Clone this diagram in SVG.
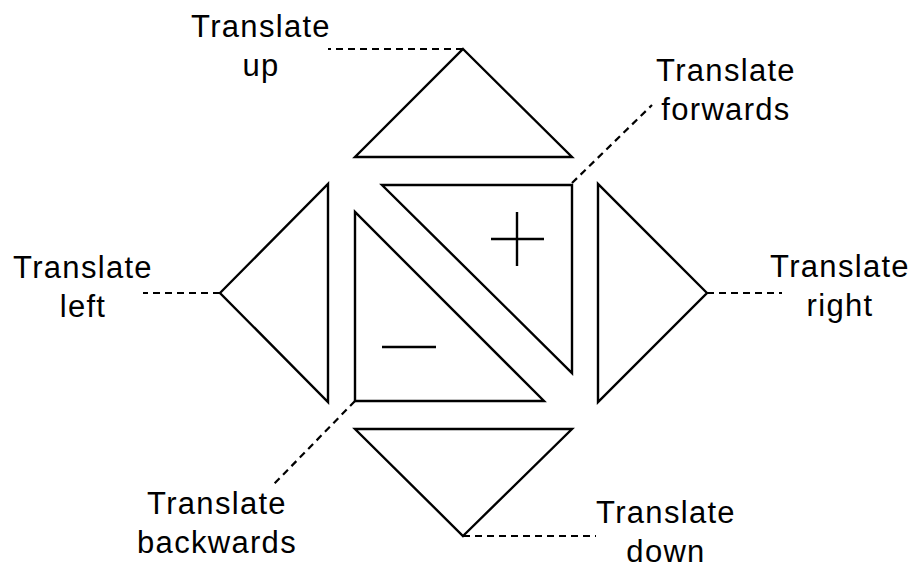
<svg xmlns="http://www.w3.org/2000/svg" width="919" height="572" viewBox="0 0 919 572">
<style>
.shape{fill:#fff;stroke:#000;stroke-width:2.4;stroke-linejoin:miter}
.sign{stroke:#000;stroke-width:2.4;fill:none}
.dash{stroke:#000;stroke-width:2.2;stroke-dasharray:7 5;fill:none}
.lbl{font-family:"Liberation Sans",Arial,sans-serif;font-size:31px;letter-spacing:1.3px;text-anchor:middle;fill:#000}
</style>
<rect width="919" height="572" fill="#fff"/>
<g id="connectors">
<line class="dash" x1="463" y1="49" x2="328" y2="49"/>
<line class="dash" x1="220" y1="293" x2="143" y2="293"/>
<line class="dash" x1="707" y1="293" x2="782" y2="293"/>
<line class="dash" x1="463" y1="536" x2="596" y2="536"/>
<line class="dash" x1="572" y1="183" x2="652" y2="105"/>
<line class="dash" x1="355" y1="401" x2="274" y2="484"/>
</g>
<g id="up">
<polygon class="shape" points="463,49 572,157 355,157"/>
<text class="lbl" x="261" y="37">Translate</text>
<text class="lbl" x="261" y="76">up</text>
</g>
<g id="left">
<polygon class="shape" points="220,293 328,184 328,402"/>
<text class="lbl" x="83" y="278">Translate</text>
<text class="lbl" x="83" y="317">left</text>
</g>
<g id="right">
<polygon class="shape" points="707,293 598,184 598,402"/>
<text class="lbl" x="840" y="277">Translate</text>
<text class="lbl" x="840" y="316">right</text>
</g>
<g id="down">
<polygon class="shape" points="463,536 572,429 355,429"/>
<text class="lbl" x="666" y="523">Translate</text>
<text class="lbl" x="666" y="562">down</text>
</g>
<g id="forwards">
<polygon class="shape" points="382,185 572,185 572,373"/>
<path class="sign" d="M491,239 H544 M517,212 V266"/>
<text class="lbl" x="726" y="81">Translate</text>
<text class="lbl" x="726" y="120">forwards</text>
</g>
<g id="backwards">
<polygon class="shape" points="355,212 355,401 544,401"/>
<path class="sign" d="M382,347 H436"/>
<text class="lbl" x="217" y="514">Translate</text>
<text class="lbl" x="217" y="553">backwards</text>
</g>
</svg>
